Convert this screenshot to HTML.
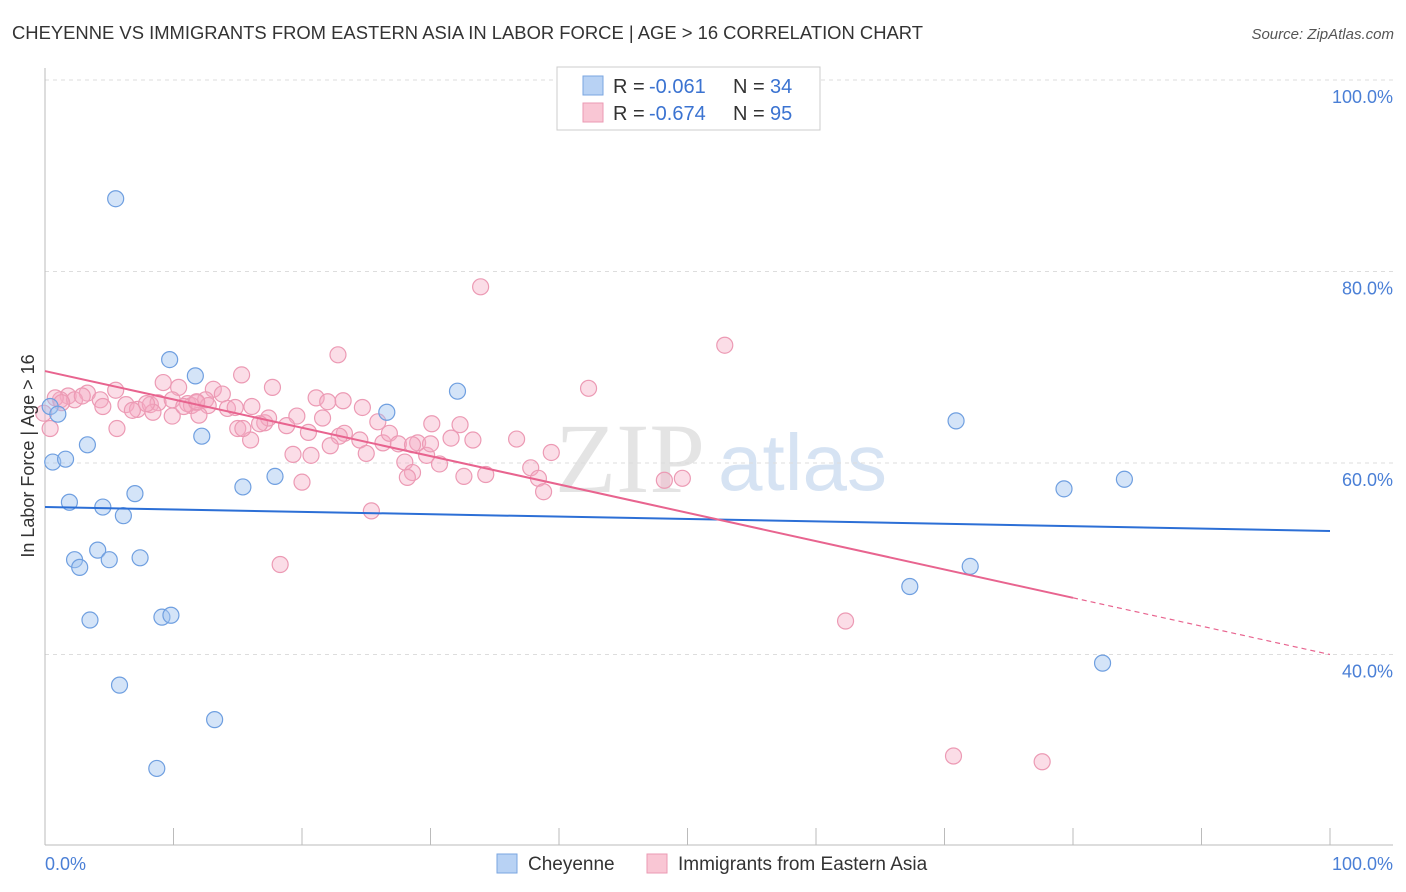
<!DOCTYPE html>
<html><head><meta charset="utf-8">
<style>
body{margin:0;background:#fff;font-family:"Liberation Sans",sans-serif;}
svg{display:block}
</style></head>
<body>
<svg id="chart" width="1406" height="892" xmlns="http://www.w3.org/2000/svg">
<text x="12" y="39" font-size="18" fill="#333" textLength="911" lengthAdjust="spacingAndGlyphs">CHEYENNE VS IMMIGRANTS FROM EASTERN ASIA IN LABOR FORCE | AGE &gt; 16 CORRELATION CHART</text>
<text x="1394" y="39" font-size="15" fill="#555" text-anchor="end" font-style="italic">Source: ZipAtlas.com</text>
<text x="555" y="492" font-size="100" fill="#e4e4e4" font-family="Liberation Serif, serif">ZIP</text>
<text x="718" y="490" font-size="80" fill="#d6e3f3">atlas</text>
<g id="grid"></g>
<g id="axes"></g>
<g id="points"></g>
<g id="trends"></g>
<text transform="translate(34,456) rotate(-90)" font-size="18" fill="#333" text-anchor="middle">In Labor Force | Age &gt; 16</text>
<text x="45" y="870" font-size="18" fill="#4a7fd6">0.0%</text>
<text x="1393" y="870" font-size="18" fill="#4a7fd6" text-anchor="end">100.0%</text>
<g>
<rect x="557" y="67" width="263" height="63" fill="#fff" stroke="#ccc"/>
<rect x="583" y="76" width="20" height="19" fill="#b8d2f4" stroke="#7aa6e0"/>
<rect x="583" y="103" width="20" height="19" fill="#f9c6d4" stroke="#eb9ab3"/>
<text x="613" y="93" font-size="20" fill="#333">R =</text>
<text x="649" y="93" font-size="20" fill="#3b73d1">-0.061</text>
<text x="733" y="93" font-size="20" fill="#333">N =</text>
<text x="770" y="93" font-size="20" fill="#3b73d1">34</text>
<text x="613" y="120" font-size="20" fill="#333">R =</text>
<text x="649" y="120" font-size="20" fill="#3b73d1">-0.674</text>
<text x="733" y="120" font-size="20" fill="#333">N =</text>
<text x="770" y="120" font-size="20" fill="#3b73d1">95</text>
</g>
<g>
<rect x="497" y="854" width="20" height="19" fill="#b8d2f4" stroke="#7aa6e0"/>
<text x="528" y="870" font-size="19" fill="#333">Cheyenne</text>
<rect x="647" y="854" width="20" height="19" fill="#f9c6d4" stroke="#eb9ab3"/>
<text x="678" y="870" font-size="19" fill="#333">Immigrants from Eastern Asia</text>
</g>
</svg>
<script>
const yTicks=[100,80,60,40];
const yTickLabels=["100.0%","80.0%","60.0%","40.0%"];
const cheyenneX=[5.5,9.7,11.7,12.2,32.1,26.6,17.9,15.4,7.0,0.6,1.6,3.3,1.9,4.5,6.1,4.1,2.3,2.7,5.0,7.4,3.5,9.1,9.8,5.8,13.2,8.7,70.9,79.3,84.0,67.3,72.0,82.3,0.4,1.0];
const cheyenneY=[87.6,70.8,69.1,62.8,67.5,65.3,58.6,57.5,56.8,60.1,60.4,61.9,55.9,55.4,54.5,50.9,49.9,49.1,49.9,50.1,43.6,43.9,44.1,36.8,33.2,28.1,64.4,57.3,58.3,47.1,49.2,39.1,65.9,65.1];
const asiaX=[33.9,52.9,22.8,42.3,15.3,9.2,10.4,13.1,13.8,17.7,21.1,22.0,5.5,3.3,1.8,1.2,2.3,4.3,2.9,6.3,7.2,8.2,8.8,9.9,11.1,11.8,12.5,12.7,14.2,14.8,16.1,4.5,6.8,8.4,9.9,11.4,17.1,17.4,19.6,21.6,24.7,25.9,30.1,32.3,5.6,15.0,16.0,18.8,20.5,23.3,22.9,24.5,26.3,26.8,27.5,29.0,31.6,33.3,36.7,39.4,22.2,25.0,19.3,20.7,28.0,28.6,29.7,30.7,32.6,34.3,37.8,38.4,38.8,28.2,20.0,25.4,18.3,48.2,49.6,62.3,70.7,77.6,0.4,-0.1,0.8,1.3,11.98,10.8,7.9,15.4,16.7,11.8,28.6,30.0,23.2];
const asiaY=[78.4,72.3,71.3,67.8,69.2,68.4,67.9,67.7,67.2,67.9,66.8,66.4,67.6,67.3,67.0,66.6,66.6,66.6,67.0,66.1,65.6,66.1,66.3,66.6,66.2,66.3,66.6,66.0,65.7,65.8,65.9,65.9,65.5,65.3,64.9,66.0,64.2,64.7,64.9,64.7,65.8,64.3,64.1,64.0,63.6,63.6,62.4,63.9,63.2,63.1,62.8,62.4,62.1,63.1,62.0,62.1,62.6,62.4,62.5,61.1,61.8,61.0,60.9,60.8,60.1,59.0,60.8,59.9,58.6,58.8,59.5,58.4,57.0,58.5,58.0,55.0,49.4,58.2,58.4,43.5,29.4,28.8,63.6,65.2,66.8,66.3,65.0,65.9,66.2,63.6,64.1,66.4,61.9,62.0,66.5];
const blueTrend=[55.4,52.9];
const pinkTrend=[69.6,40.0];
const NS="http://www.w3.org/2000/svg";
const X0=45,X1=1330,Y100=80,PXPER=9.575;
function xs(v){return X0+(X1-X0)*v/100;}
function ys(v){return Y100+(100-v)*PXPER;}
function mk(tag,attrs,parent){const e=document.createElementNS(NS,tag);for(const k in attrs)e.setAttribute(k,attrs[k]);parent.appendChild(e);return e;}
const grid=document.getElementById('grid');
yTicks.forEach((t,i)=>{
  const l=mk('line',{x1:X0,x2:1393,y1:ys(t),y2:ys(t),stroke:'#ddd','stroke-dasharray':'4,4'},grid);
  
  
  const tx=mk('text',{x:1393,y:ys(t)+23,'font-size':18,fill:'#4a7fd6','text-anchor':'end'},grid);
  tx.textContent=yTickLabels[i];
  
  
});
const axes=document.getElementById('axes');
const ax=mk('line',{x1:X0,x2:1393,y1:845,y2:845,stroke:'#bbb'},axes);


const ay=mk('line',{x1:X0,x2:X0,y1:68,y2:845,stroke:'#bbb'},axes);


for(let i=0;i<=10;i++){
  const t=mk('line',{x1:xs(i*10),x2:xs(i*10),y1:828,y2:845,stroke:'#bbb'},axes);
  
  
}
const pts=document.getElementById('points');
asiaX.forEach((v,i)=>{
  const c=mk('circle',{cx:xs(v),cy:ys(asiaY[i]),r:8,fill:'rgba(245,170,195,0.4)',stroke:'#ec9ab4','stroke-width':1.2},pts);
  
  
});
cheyenneX.forEach((v,i)=>{
  const c=mk('circle',{cx:xs(v),cy:ys(cheyenneY[i]),r:8,fill:'rgba(160,195,240,0.45)',stroke:'#6f9fe0','stroke-width':1.2},pts);
  
  
});
const tr=document.getElementById('trends');
const bl=mk('line',{x1:xs(0),y1:ys(blueTrend[0]),x2:xs(100),y2:ys(blueTrend[1]),stroke:'#2c6fd6','stroke-width':2},tr);


const pm=(v)=>pinkTrend[0]+(pinkTrend[1]-pinkTrend[0])*v/100;
const pl=mk('line',{x1:xs(0),y1:ys(pm(0)),x2:xs(80),y2:ys(pm(80)),stroke:'#e8648f','stroke-width':2},tr);


const pd=mk('line',{x1:xs(80),y1:ys(pm(80)),x2:xs(100),y2:ys(pm(100)),stroke:'#e8648f','stroke-width':1.2,'stroke-dasharray':'5,4'},tr);


</script>
</body></html>
